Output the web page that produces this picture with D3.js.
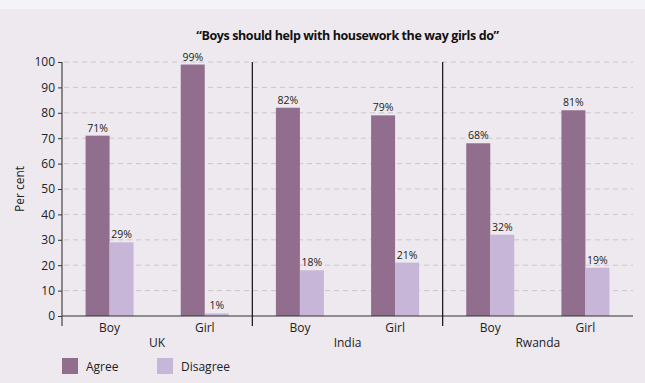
<!DOCTYPE html>
<html>
<head>
<meta charset="utf-8">
<script src="https://cdn.jsdelivr.net/npm/d3@7"></script>
<style>
  html, body { margin: 0; padding: 0; background: #ede9ef; }
  svg { display: block; }
</style>
</head>
<body>
<svg id="chart" width="645" height="383"></svg>
<script>
// Survey responses by country and sex of respondent
const countries = ["UK", "India", "Rwanda"];
const groups = ["Boy", "Girl"];
const agree = [71, 99, 82, 79, 68, 81];      // UK Boy, UK Girl, India Boy, India Girl, Rwanda Boy, Rwanda Girl
const disagree = [29, 1, 18, 21, 32, 19];
const yTicks = [0, 10, 20, 30, 40, 50, 60, 70, 80, 90, 100];
const seriesNames = ["Agree", "Disagree"];
const seriesColors = ["#926e8e", "#c8b6d9"];

const svg = d3.select("#chart");
const W = 645, H = 383;

// light strip across the top
svg.append("rect").attr("x", 0).attr("y", 0).attr("width", W).attr("height", 9).attr("fill", "#f4f3f8");
svg.append("rect").attr("x", 0).attr("y", 9).attr("width", W).attr("height", H - 9).attr("fill", "#ede9ef");

const margin = { left: 62, right: 633, top: 62, bottom: 316 };

const cats = [];
countries.forEach(c => groups.forEach(g => cats.push(c + "|" + g)));

const x = d3.scaleBand().domain(cats).range([margin.left, margin.right]).paddingInner(0).paddingOuter(0);
const y = d3.scaleLinear().domain([0, 100]).range([margin.bottom, margin.top]);
const sub = d3.scaleBand().domain(seriesNames).range([0, 48]);

const font = "'Open Sans', 'Liberation Sans', sans-serif";

// title
svg.append("text")
  .attr("x", (margin.left + margin.right) / 2)
  .attr("y", 40)
  .attr("text-anchor", "middle")
  .attr("font-family", font)
  .attr("font-weight", "bold")
  .attr("font-size", 12.5)
  .attr("letter-spacing", -0.4)
  .attr("fill", "#111")
  .text("\u201CBoys should help with housework the way girls do\u201D");

// dashed gridlines
svg.append("g").selectAll("line")
  .data(yTicks.filter(d => d > 0))
  .join("line")
  .attr("x1", margin.left + 2).attr("x2", margin.right)
  .attr("y1", d => y(d)).attr("y2", d => y(d))
  .attr("stroke", "#cbc6cc").attr("stroke-width", 1)
  .attr("stroke-dasharray", "5,4");

// y axis
const yAxis = d3.axisLeft(y).tickValues(yTicks).tickSize(4).tickPadding(3);
const gy = svg.append("g").attr("transform", `translate(${margin.left},0)`).call(yAxis);
gy.select(".domain").remove();
gy.selectAll(".tick line").attr("stroke", "#333");
gy.selectAll("text").attr("font-family", font).attr("font-size", 12).attr("fill", "#222");
svg.append("line")
  .attr("x1", margin.left).attr("x2", margin.left)
  .attr("y1", margin.top).attr("y2", margin.bottom + 10)
  .attr("stroke", "#444").attr("stroke-width", 1.2);

// y axis title
svg.append("text")
  .attr("transform", `translate(24,${(margin.top + margin.bottom) / 2}) rotate(-90)`)
  .attr("text-anchor", "middle")
  .attr("font-family", font).attr("font-size", 12).attr("fill", "#222")
  .text("Per cent");

// bars
const rows = cats.map((c, i) => ({ cat: c, values: [agree[i], disagree[i]] }));
const barG = svg.append("g");
rows.forEach(r => {
  const cx = x(r.cat) + x.bandwidth() / 2 - sub.range()[1] / 2;
  r.values.forEach((v, j) => {
    const bx = cx + sub(seriesNames[j]);
    barG.append("rect")
      .attr("x", bx).attr("width", sub.bandwidth())
      .attr("y", y(v)).attr("height", y(0) - y(v))
      .attr("fill", seriesColors[j]);
    barG.append("text")
      .attr("x", bx + sub.bandwidth() / 2)
      .attr("y", y(v) - 4)
      .attr("text-anchor", "middle")
      .attr("font-family", font).attr("font-size", 10.5).attr("fill", "#222")
      .text(v + "%");
  });
});

// x axis baseline
svg.append("line")
  .attr("x1", margin.left).attr("x2", margin.right)
  .attr("y1", y(0)).attr("y2", y(0))
  .attr("stroke", "#333").attr("stroke-width", 1.2);

// country separators
countries.slice(1).forEach(c => {
  const sx = x(c + "|" + groups[0]);
  svg.append("line")
    .attr("x1", sx).attr("x2", sx)
    .attr("y1", margin.top).attr("y2", margin.bottom + 10)
    .attr("stroke", "#111").attr("stroke-width", 1.2);
});

// group labels
svg.append("g").selectAll("text")
  .data(cats)
  .join("text")
  .attr("x", d => x(d) + x.bandwidth() / 2)
  .attr("y", 332)
  .attr("text-anchor", "middle")
  .attr("font-family", font).attr("font-size", 12).attr("fill", "#222")
  .text(d => d.split("|")[1]);

// country labels
svg.append("g").selectAll("text")
  .data(countries)
  .join("text")
  .attr("x", c => x(c + "|" + groups[0]) + x.bandwidth())
  .attr("y", 347)
  .attr("text-anchor", "middle")
  .attr("font-family", font).attr("font-size", 12).attr("fill", "#222")
  .text(c => c);

// legend
const legendX = [62, 157];
seriesNames.forEach((name, i) => {
  svg.append("rect")
    .attr("x", legendX[i]).attr("y", 358)
    .attr("width", 16).attr("height", 16)
    .attr("fill", seriesColors[i]);
  svg.append("text")
    .attr("x", legendX[i] + 24).attr("y", 370.5)
    .attr("font-family", font).attr("font-size", 12).attr("fill", "#222")
    .text(name);
});
</script>
</body>
</html>
